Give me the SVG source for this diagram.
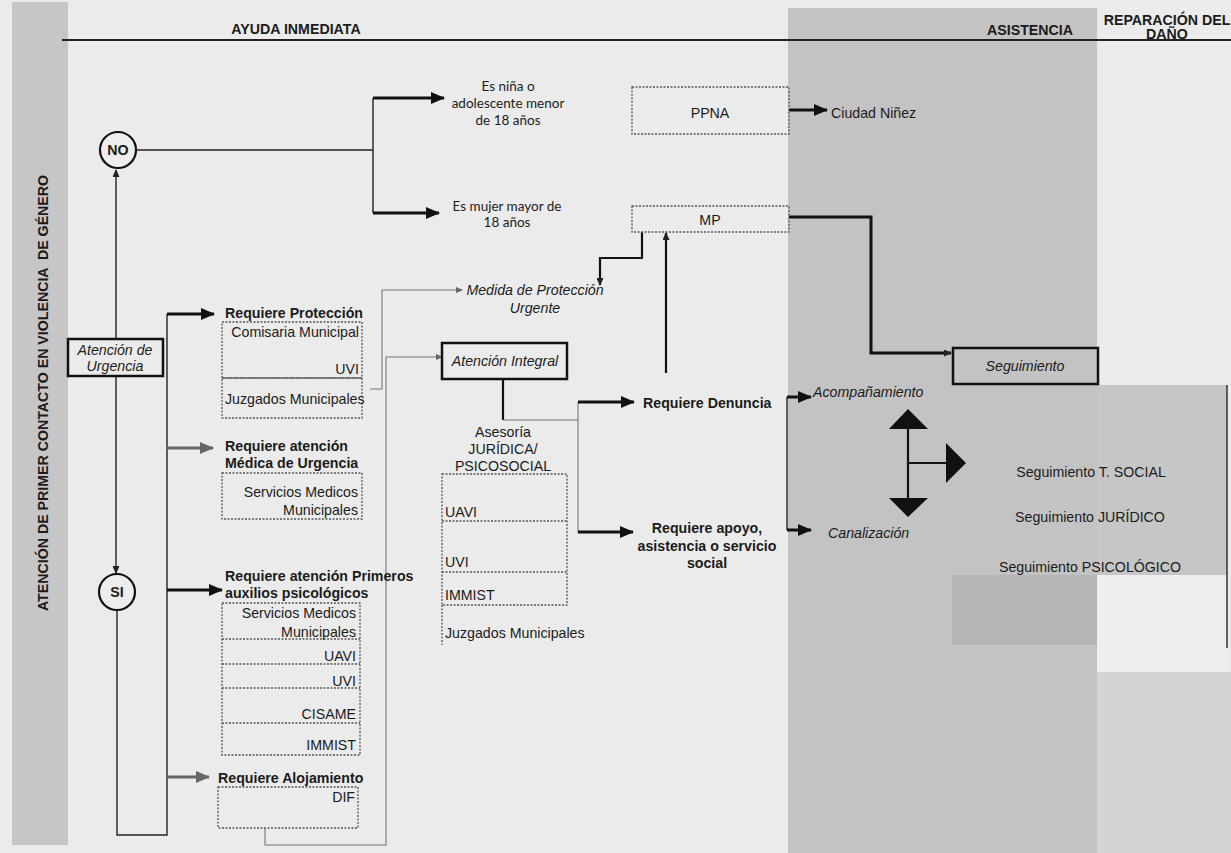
<svg xmlns="http://www.w3.org/2000/svg" width="1231" height="853" viewBox="0 0 1231 853">
<defs>
<style>
.t{font-family:"Liberation Sans",Arial,sans-serif;fill:#1b1b1b;font-size:14.2px}
.b{font-weight:bold}
.i{font-style:italic}
.g{font-family:Lato,"Liberation Sans",sans-serif;fill:#1b1b1b;font-size:13.5px}
.m{text-anchor:middle}
.e{text-anchor:end}
.dot{fill:none;stroke:#555;stroke-width:1.3;stroke-dasharray:2 1.5}
.box{fill:none;stroke:#111;stroke-width:2.5}
.thick{fill:none;stroke:#111;stroke-width:3}
.med{fill:none;stroke:#111;stroke-width:2.2}
.thin{fill:none;stroke:#222;stroke-width:1.4}
.grey{fill:none;stroke:#666;stroke-width:3}
.hair{fill:none;stroke:#777;stroke-width:1.1}
</style>
<marker id="ah" markerUnits="userSpaceOnUse" markerWidth="14" markerHeight="12" refX="13" refY="6" orient="auto"><path d="M0,0 L14,6 L0,12 z" fill="#111"/></marker>
<marker id="ag" markerUnits="userSpaceOnUse" markerWidth="14" markerHeight="12" refX="13" refY="6" orient="auto"><path d="M0,0 L14,6 L0,12 z" fill="#666"/></marker>
<marker id="as" markerUnits="userSpaceOnUse" markerWidth="8" markerHeight="7" refX="7" refY="3.5" orient="auto"><path d="M0,0 L8,3.5 L0,7 z" fill="#222"/></marker>
<marker id="asg" markerUnits="userSpaceOnUse" markerWidth="7" markerHeight="6" refX="6" refY="3" orient="auto"><path d="M0,0 L7,3 L0,6 z" fill="#666"/></marker>
</defs>

<g id="background">
<rect x="0" y="0" width="1231" height="853" fill="#ebebeb"/>
<rect x="12" y="2" width="56" height="843" fill="#c6c6c6"/>
<rect x="788" y="8" width="309" height="845" fill="#c3c3c3"/>
<rect x="1097" y="385" width="130" height="190" fill="#c6c6c6"/>
<rect x="952" y="575" width="145" height="70" fill="#b5b5b5"/>
<rect x="1097" y="575" width="130" height="97" fill="#eeeeee"/>
<rect x="1097" y="672" width="134" height="181" fill="#d4d4d4"/>
<line x1="62" y1="40" x2="1231" y2="40" stroke="#222" stroke-width="2"/>
<line x1="1227" y1="385" x2="1227" y2="648" stroke="#333" stroke-width="1.5"/>
</g>

<g id="headers">
<text class="t b m" x="296" y="34" font-size="14.5">AYUDA INMEDIATA</text>
<text class="t b m" x="1030" y="35" font-size="12.5">ASISTENCIA</text>
<text class="t b m" x="1167" y="25" font-size="13">REPARACIÓN DEL</text>
<text class="t b m" x="1167" y="39" font-size="13">DAÑO</text>
<text class="t b m" transform="translate(48,393) rotate(-90)" font-size="13.5" style="white-space:pre">ATENCIÓN DE PRIMER CONTACTO EN VIOLENCIA  DE GÉNERO</text>
</g>

<g id="connectors">
<path class="thin" d="M116,339 V170" marker-end="url(#as)"/>
<path class="thin" d="M116,376 V573" marker-end="url(#as)"/>
<path class="thin" d="M117,611 V835 H167 V314"/>
<path class="thick" d="M167,314 H214" marker-end="url(#ah)"/>
<path class="grey" d="M167,448 H213" marker-end="url(#ag)"/>
<path class="thick" d="M167,590 H222" marker-end="url(#ah)"/>
<path class="grey" d="M167,777 H209" marker-end="url(#ag)"/>
<path class="thin" d="M136,150 H373"/>
<path class="thin" d="M373,98 V213"/>
<path class="thick" d="M373,98 H444" marker-end="url(#ah)"/>
<path class="thick" d="M373,213 H439" marker-end="url(#ah)"/>
<path class="hair" d="M370,389 H382 V290 H462" marker-end="url(#asg)"/>
<path class="hair" d="M265,828 V845 H386 V357 H442" marker-end="url(#asg)"/>
<path class="med" d="M642,232 V258 H600 V285" marker-end="url(#as)"/>
<path class="med" d="M666,373 V233" marker-end="url(#as)"/>
<path class="thick" d="M789,217 H871 V353 H951" marker-end="url(#as)"/>
<path class="thick" d="M789,110 H827" marker-end="url(#ah)"/>
<path class="med" d="M503,379 V420"/>
<path class="hair" d="M503,420 H578"/>
<path class="hair" d="M578,402 V532"/>
<path class="thick" d="M578,402 H634" marker-end="url(#ah)"/>
<path class="thick" d="M578,532 H633" marker-end="url(#ah)"/>
<path class="thin" d="M787,397 V530"/>
<path class="thick" d="M787,397 H811" marker-end="url(#ah)"/>
<path class="thick" d="M787,530 H811" marker-end="url(#ah)"/>
<path class="med" d="M908,425 V500 M908,463 H948"/>
<polygon points="908,409 928,429 889,429" fill="#111"/>
<polygon points="889,498 928,498 908,517" fill="#111"/>
<polygon points="946,443 966,463 946,483" fill="#111"/>
</g>

<g id="node-no"><circle cx="118" cy="150" r="18" fill="#ededed" stroke="#111" stroke-width="2.2"/><text class="t b m" x="118" y="155" font-size="13">NO</text></g>
<g id="node-si"><circle cx="117" cy="592" r="18" fill="#ededed" stroke="#111" stroke-width="2.2"/><text class="t b m" x="117" y="597" font-size="13">SI</text></g>
<g id="node-urgencia"><rect class="box" x="68" y="339" width="95" height="37" fill="#ededed"/><text class="t i m" x="115" y="355" font-size="13">Atención de</text><text class="t i m" x="115" y="371" font-size="13">Urgencia</text></g>

<g id="node-proteccion">
<text class="t b" x="225" y="318">Requiere Protección</text>
<rect class="dot" x="222" y="322" width="140" height="56"/>
<rect class="dot" x="222" y="378" width="140" height="40"/>
<text class="t e" x="359" y="337" fill="#333">Comisaria Municipal</text>
<text class="t e" x="359" y="374">UVI</text>
<text class="t" x="225" y="404">Juzgados Municipales</text>
</g>

<g id="node-medica">
<text class="t b" x="225" y="451">Requiere atención</text>
<text class="t b" x="225" y="468">Médica de Urgencia</text>
<rect class="dot" x="222" y="473" width="140" height="46"/>
<text class="t e" x="358" y="497" fill="#333">Servicios Medicos</text>
<text class="t e" x="358" y="515">Municipales</text>
</g>

<g id="node-primeros">
<text class="t b" x="225" y="581">Requiere atención Primeros</text>
<text class="t b" x="225" y="598">auxilios psicológicos</text>
<rect class="dot" x="222" y="603" width="138" height="152"/>
<path class="dot" d="M222,639 H360 M222,664 H360 M222,688 H360 M222,723 H360"/>
<text class="t e" x="356" y="618" fill="#333">Servicios Medicos</text>
<text class="t e" x="356" y="637">Municipales</text>
<text class="t e" x="356" y="661">UAVI</text>
<text class="t e" x="356" y="686">UVI</text>
<text class="t e" x="356" y="719">CISAME</text>
<text class="t e" x="356" y="750">IMMIST</text>
</g>

<g id="node-alojamiento">
<text class="t b" x="218" y="783">Requiere Alojamiento</text>
<rect class="dot" x="218" y="787" width="140" height="41"/>
<text class="t e" x="355" y="802">DIF</text>
</g>

<g id="node-nina"><text class="g m" x="508" y="91">Es niña o</text><text class="g m" x="508" y="108">adolescente menor</text><text class="g m" x="508" y="125">de 18 años</text></g>
<g id="node-mujer"><text class="g m" x="507" y="211">Es mujer mayor de</text><text class="g m" x="507" y="227">18 años</text></g>
<g id="node-ppna"><rect class="dot" x="632" y="87" width="157" height="47"/><text class="t m" x="710" y="118" font-size="14">PPNA</text></g>
<g id="node-ciudad"><text class="t" x="831" y="118" font-size="14">Ciudad Niñez</text></g>
<g id="node-mp"><rect class="dot" x="632" y="206" width="157" height="26"/><text class="t m" x="710" y="225" font-size="14">MP</text></g>
<g id="node-medida"><text class="t i m" x="535" y="295" font-size="14">Medida de Protección</text><text class="t i m" x="535" y="313" font-size="14">Urgente</text></g>
<g id="node-integral"><rect class="box" x="442" y="343" width="125" height="36"/><text class="t i m" x="505" y="366" font-size="13.8">Atención Integral</text></g>

<g id="node-asesoria">
<text class="t m" x="503" y="437">Asesoría</text>
<text class="t m" x="503" y="454">JURÍDICA/</text>
<text class="t m" x="503" y="471">PSICOSOCIAL</text>
<rect class="dot" x="442" y="474" width="125" height="131"/>
<path class="dot" d="M442,521 H567 M442,572 H567 M442,605 V645"/>
<text class="t" x="445" y="517">UAVI</text>
<text class="t" x="445" y="567">UVI</text>
<text class="t" x="445" y="600">IMMIST</text>
<text class="t" x="445" y="638">Juzgados Municipales</text>
</g>

<g id="node-denuncia"><text class="t b" x="643" y="408">Requiere Denuncia</text></g>
<g id="node-apoyo"><text class="t b m" x="707" y="533">Requiere apoyo,</text><text class="t b m" x="707" y="551">asistencia o servicio</text><text class="t b m" x="707" y="568">social</text></g>
<g id="node-acomp"><text class="t i" x="813" y="397" font-size="13.5">Acompañamiento</text></g>
<g id="node-canal"><text class="t i" x="828" y="538" font-size="13.5">Canalización</text></g>
<g id="node-seguimiento"><rect class="box" x="953" y="348" width="145" height="36" fill="#c6c6c6"/><text class="t i m" x="1025" y="371" font-size="13.5">Seguimiento</text></g>
<g id="node-seg-social"><text class="t m" x="1091" y="477" font-size="14">Seguimiento T. SOCIAL</text></g>
<g id="node-seg-juridico"><text class="t m" x="1090" y="522" font-size="14">Seguimiento JURÍDICO</text></g>
<g id="node-seg-psico"><text class="t m" x="1090" y="572" font-size="14">Seguimiento PSICOLÓGICO</text></g>
</svg>
